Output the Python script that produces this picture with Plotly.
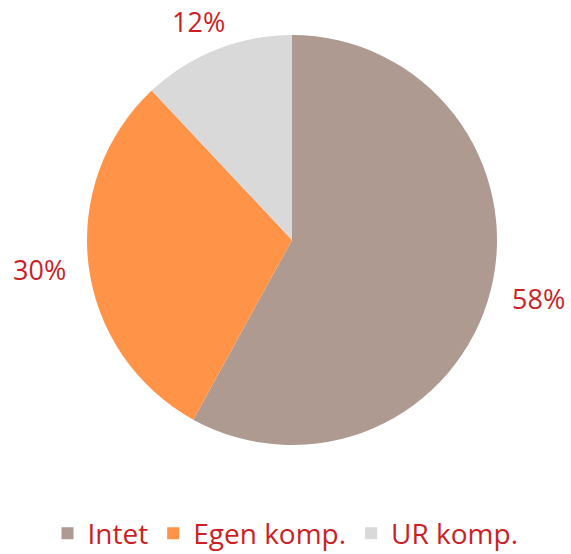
import math
import plotly.graph_objects as go

labels = ["Intet", "Egen komp.", "UR komp."]
values = [58, 30, 12]
colors = ["#AE9A90", "#FF9448", "#D9D9D9"]

W, H = 571, 554
cx_px, cy_px, r_px = 292, 240, 205
label_rx_px, label_ry_px = 255, 235
red = "#CC1F25"
font_family = "Open Sans, Noto Sans, sans-serif"

fig = go.Figure()
fig.add_trace(go.Pie(
    labels=labels,
    values=values,
    marker=dict(colors=colors, line=dict(width=0)),
    sort=False,
    direction="clockwise",
    rotation=0,
    textinfo="none",
    hoverinfo="label+percent",
    domain=dict(x=[(cx_px - r_px) / W, (cx_px + r_px) / W],
                y=[1 - (cy_px + r_px) / H, 1 - (cy_px - r_px) / H]),
))

total = sum(values)
cum = 0.0
for v in values:
    mid = (cum + v / 2) / total * 2 * math.pi
    cum += v
    x = (cx_px + label_rx_px * math.sin(mid)) / W
    y = 1 - (cy_px - label_ry_px * math.cos(mid)) / H
    fig.add_annotation(x=x, y=y, xref="paper", yref="paper",
                       text=f"{round(v / total * 100)}%", showarrow=False,
                       font=dict(size=27, color=red, family=font_family),
                       xanchor="center", yanchor="middle")

fig.update_layout(
    width=W, height=H,
    margin=dict(l=0, r=0, t=0, b=0, autoexpand=False),
    paper_bgcolor="white",
    plot_bgcolor="white",
    showlegend=True,
    legend=dict(orientation="h", x=0.5, xanchor="center", y=-0.008, yanchor="bottom",
                font=dict(size=28, color=red, family=font_family),
                itemwidth=30, traceorder="normal"),
)

fig.write_html("out.html")
